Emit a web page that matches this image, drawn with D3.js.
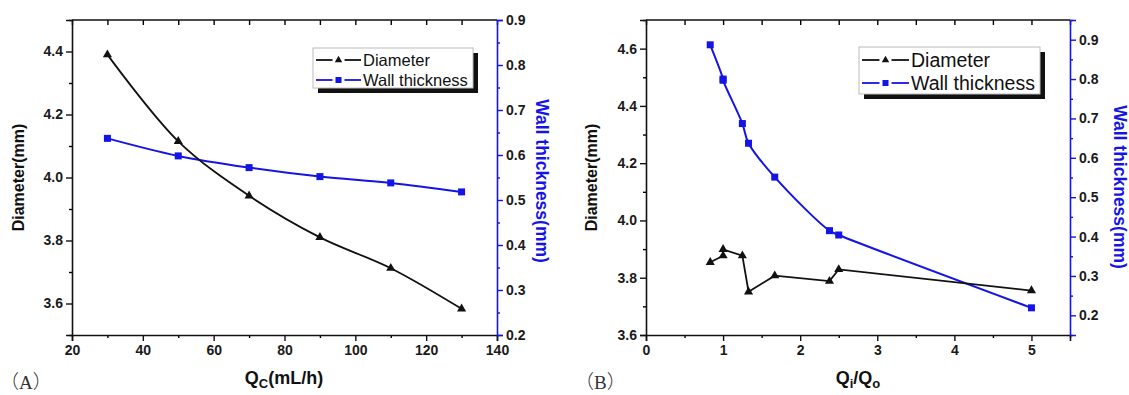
<!DOCTYPE html>
<html lang="en">
<head>
<meta charset="UTF-8">
<title>Diameter and wall thickness</title>
<script src="https://cdn.jsdelivr.net/npm/d3@7/dist/d3.min.js"></script>
<style>
  body { margin: 0; background: #fff; }
  svg { display: block; font-family: Arial, "Liberation Sans", sans-serif; }
</style>
</head>
<body>
<script>
// panel A data: Q_C (mL/h)
const qcValues = [30, 50, 70, 90, 110, 130];
const diameterA = [4.39, 4.115, 3.942, 3.81, 3.712, 3.583];
const wallA = [0.637, 0.598, 0.572, 0.552, 0.538, 0.518];

// panel B data: Qi/Qo
const ratioValues = [0.833, 1.0, 1.0, 1.25, 1.33, 1.67, 2.38, 2.5, 5.0];
const diameterB = [3.854, 3.877, 3.899, 3.877, 3.751, 3.807, 3.788, 3.829, 3.755];
const wallB = [0.887, 0.800, 0.797, 0.687, 0.637, 0.551, 0.415, 0.404, 0.219];

const legendLabels = ['Diameter', 'Wall thickness'];
const blue = '#1414e6';
const sans = '"Liberation Sans", Arial, sans-serif';

const width = 1129, height = 395;
const svg = d3.select('body').append('svg')
  .attr('width', width).attr('height', height);

function styleLabels(sel) {
  sel.selectAll('text').attr('font-family', sans).attr('font-weight', 'bold')
    .attr('font-size', 14).attr('fill', '#1a1a1a');
}

function panel(cfg) {
  const x = d3.scaleLinear().domain(cfg.xDomain).range([cfg.left, cfg.right]);
  const yL = d3.scaleLinear().domain(cfg.yLDomain).range([cfg.bottom, cfg.top]);
  const yR = d3.scaleLinear().domain(cfg.yRDomain).range([cfg.bottom, cfg.top]);
  const g = svg.append('g');

  // minor ticks
  g.append('g').attr('transform', `translate(0,${cfg.bottom})`)
    .call(d3.axisBottom(x).tickValues(cfg.xMinor).tickSize(3).tickFormat(''))
    .call(s => s.select('.domain').remove());
  g.append('g').attr('transform', `translate(0,${cfg.top})`)
    .call(d3.axisBottom(x).tickValues(cfg.xMinor.concat(cfg.xMajor)).tickSize(5).tickFormat(''))
    .call(s => s.select('.domain').remove());
  g.append('g').attr('transform', `translate(${cfg.left},0)`)
    .call(d3.axisLeft(yL).tickValues(cfg.yLMinor).tickSize(3).tickFormat(''))
    .call(s => s.select('.domain').remove());
  g.append('g').attr('transform', `translate(${cfg.right},0)`)
    .call(d3.axisRight(yR).tickValues(cfg.yRMinor).tickSize(3).tickFormat(''))
    .call(s => s.select('.domain').remove())
    .selectAll('line').attr('stroke', blue);

  const xAx = g.append('g').attr('transform', `translate(0,${cfg.bottom})`)
    .call(d3.axisBottom(x).tickValues(cfg.xMajor).tickSize(6).tickPadding(4).tickFormat(d3.format('d')));
  const yLAx = g.append('g').attr('transform', `translate(${cfg.left},0)`)
    .call(d3.axisLeft(yL).tickValues(cfg.yLMajor).tickSize(6).tickPadding(3).tickFormat(d3.format('.1f')));
  const yRAx = g.append('g').attr('transform', `translate(${cfg.right},0)`)
    .call(d3.axisRight(yR).tickValues(cfg.yRMajor).tickSize(6).tickPadding(3).tickFormat(d3.format('.1f')));
  [xAx, yLAx].forEach(a => a.selectAll('line, path').attr('stroke', '#111').attr('stroke-width', 1.6));
  yRAx.selectAll('line, path').attr('stroke', blue).attr('stroke-width', 1.6);
  g.selectAll('.tick line').attr('stroke-width', 1.4);
  [xAx, yLAx, yRAx].forEach(styleLabels);

  // top spine
  g.append('line').attr('x1', cfg.left).attr('x2', cfg.right)
    .attr('y1', cfg.top).attr('y2', cfg.top).attr('stroke', '#111').attr('stroke-width', 1.6);

  // lines
  const lineD = d3.line().x((d, i) => x(cfg.xs[i])).y(d => yL(d)).curve(cfg.dCurve);
  const lineW = d3.line().x((d, i) => x(cfg.xs[i])).y(d => yR(d)).curve(cfg.wCurve);
  g.append('path').datum(cfg.wall).attr('d', lineW)
    .attr('fill', 'none').attr('stroke', blue).attr('stroke-width', 2);
  g.append('path').datum(cfg.diam).attr('d', lineD)
    .attr('fill', 'none').attr('stroke', '#111').attr('stroke-width', 1.8);

  const tri = d3.symbol().type(d3.symbolTriangle).size(36);
  g.selectAll('.tri').data(cfg.diam).join('path')
    .attr('transform', (d, i) => `translate(${x(cfg.xs[i])},${yL(d)})`)
    .attr('d', tri).attr('fill', '#111');
  g.selectAll('.sq').data(cfg.wall).join('rect')
    .attr('x', (d, i) => x(cfg.xs[i]) - 3.5).attr('y', d => yR(d) - 3.5)
    .attr('width', 7).attr('height', 7).attr('fill', blue);

  // legend
  const L = cfg.legend;
  g.append('rect').attr('x', L.x + 5).attr('y', L.y + 5).attr('width', L.w).attr('height', L.h).attr('fill', '#111');
  g.append('rect').attr('x', L.x).attr('y', L.y).attr('width', L.w).attr('height', L.h)
    .attr('fill', '#fff').attr('stroke', '#bbb').attr('stroke-width', 1);
  legendLabels.forEach((lab, i) => {
    const cy = L.y + L.row0 + i * L.rowH;
    const col = i === 0 ? '#111' : blue;
    const mid = L.x + 3 + L.sample / 2;
    g.append('line').attr('x1', L.x + 3).attr('x2', mid - 6)
      .attr('y1', cy).attr('y2', cy).attr('stroke', col).attr('stroke-width', 1.8);
    g.append('line').attr('x1', mid + 6).attr('x2', L.x + 3 + L.sample)
      .attr('y1', cy).attr('y2', cy).attr('stroke', col).attr('stroke-width', 1.8);
    if (i === 0) {
      g.append('path').attr('transform', `translate(${mid},${cy})`)
        .attr('d', d3.symbol().type(d3.symbolTriangle).size(24)).attr('fill', '#111');
    } else {
      g.append('rect').attr('x', mid - 3).attr('y', cy - 3)
        .attr('width', 6).attr('height', 6).attr('fill', blue);
    }
    g.append('text').attr('x', L.x + L.sample + 5).attr('y', cy + L.fs * 0.36)
      .attr('font-family', sans).attr('font-size', L.fs).attr('fill', '#111').text(lab);
  });

  // axis titles
  g.append('text').attr('transform', `translate(${cfg.yLTitleX},${(cfg.top + cfg.bottom) / 2}) rotate(-90)`)
    .attr('text-anchor', 'middle').attr('font-family', sans).attr('font-weight', 'bold')
    .attr('font-size', 16).attr('fill', '#111')
    .text('Diameter(mm)');
  g.append('text').attr('transform', `translate(${cfg.yRTitleX},${cfg.yRTitleY}) rotate(90)`)
    .attr('text-anchor', 'middle').attr('font-family', sans).attr('font-weight', 'bold')
    .attr('font-size', 17.5).attr('fill', blue)
    .text('Wall thickness(mm)');
  const xt = g.append('text').attr('x', cfg.xTitleX).attr('y', 384)
    .attr('text-anchor', 'middle').attr('font-family', sans).attr('font-weight', 'bold')
    .attr('font-size', 18).attr('fill', '#111');
  cfg.xTitle(xt);

  const tag = svg.append('text').attr('x', cfg.tagX).attr('y', 389)
    .attr('font-size', 19).attr('fill', '#333');
  tag.append('tspan').attr('font-family', '"Noto Sans CJK SC"').attr('font-weight', 300).text('（');
  tag.append('tspan').attr('font-family', '"Liberation Serif", serif').text(cfg.tag);
  tag.append('tspan').attr('font-family', '"Noto Sans CJK SC"').attr('font-weight', 300).text('）');
}

panel({
  left: 72, right: 497, top: 20, bottom: 335,
  xDomain: [20, 140], xMajor: d3.range(20, 141, 20), xMinor: d3.range(30, 140, 20),
  yLDomain: [3.5, 4.5], yLMajor: [3.6, 3.8, 4.0, 4.2, 4.4], yLMinor: [3.5, 3.7, 3.9, 4.1, 4.3, 4.5],
  yRDomain: [0.2, 0.9], yRMajor: [0.2, 0.3, 0.4, 0.5, 0.6, 0.7, 0.8, 0.9],
  yRMinor: [0.25, 0.35, 0.45, 0.55, 0.65, 0.75, 0.85],
  xs: qcValues, diam: diameterA, wall: wallA,
  dCurve: d3.curveCatmullRom.alpha(0.5), wCurve: d3.curveCatmullRom.alpha(0.5),
  legend: { x: 313, y: 48, w: 160, h: 40, row0: 12, rowH: 20, sample: 45, fs: 16.5 },
  yLTitleX: 24, yRTitleX: 536, yRTitleY: 181, xTitleX: 284,
  xTitle: t => {
    t.append('tspan').text('Q');
    t.append('tspan').attr('font-size', 13).attr('dy', 4).text('C');
    t.append('tspan').attr('dy', -4).text('(mL/h)');
  },
  tag: 'A', tagX: 0
});

panel({
  left: 646, right: 1070, top: 20, bottom: 335,
  xDomain: [0, 5.5], xMajor: [0, 1, 2, 3, 4, 5], xMinor: [0.5, 1.5, 2.5, 3.5, 4.5, 5.5],
  yLDomain: [3.6, 4.7], yLMajor: [3.6, 3.8, 4.0, 4.2, 4.4, 4.6], yLMinor: [3.7, 3.9, 4.1, 4.3, 4.5, 4.7],
  yRDomain: [0.15, 0.95], yRMajor: [0.2, 0.3, 0.4, 0.5, 0.6, 0.7, 0.8, 0.9],
  yRMinor: [0.15, 0.25, 0.35, 0.45, 0.55, 0.65, 0.75, 0.85, 0.95],
  xs: ratioValues, diam: diameterB, wall: wallB,
  dCurve: d3.curveLinear, wCurve: d3.curveCatmullRom.alpha(0.5),
  legend: { x: 859, y: 47, w: 181, h: 47, row0: 13, rowH: 23, sample: 47, fs: 19.5 },
  yLTitleX: 597, yRTitleX: 1114, yRTitleY: 187, xTitleX: 858,
  xTitle: t => {
    t.append('tspan').text('Q');
    t.append('tspan').attr('font-size', 13).attr('dy', 4).text('i');
    t.append('tspan').attr('dy', -4).text('/Q');
    t.append('tspan').attr('font-size', 13).attr('dy', 4).text('o');
  },
  tag: 'B', tagX: 575
});
</script>
</body>
</html>
